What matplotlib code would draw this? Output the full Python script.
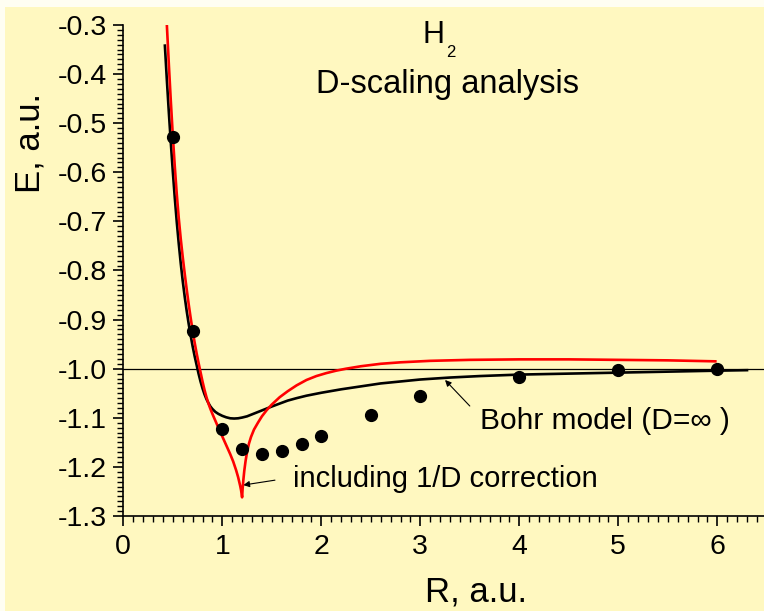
import matplotlib
matplotlib.use("Agg")
import matplotlib.pyplot as plt
from matplotlib.ticker import MultipleLocator, FormatStrFormatter
from matplotlib.patches import Rectangle

plt.rcParams['font.family'] = ['Liberation Sans', 'DejaVu Sans']
plt.rcParams['axes.unicode_minus'] = False

# --- data ---
# dots: D-scaling energies
r_dots = [0.5, 0.7, 1.0, 1.2, 1.4, 1.6, 1.8, 2.0, 2.5, 3.0, 4.0, 5.0, 6.0]
e_dots = [-0.528, -0.923, -1.123, -1.164, -1.173, -1.167, -1.154, -1.137,
          -1.094, -1.056, -1.016, -1.003, -1.001]

# black curve: Bohr model (D = infinity)
r_bohr = [0.42, 0.44, 0.46, 0.48, 0.50, 0.52, 0.54, 0.56, 0.58, 0.60,
          0.62, 0.64, 0.66, 0.68, 0.70, 0.72, 0.74, 0.76, 0.78, 0.80,
          0.82, 0.84, 0.86, 0.88, 0.90, 0.93, 0.96, 1.00, 1.04, 1.08,
          1.12, 1.16, 1.20, 1.25, 1.30, 1.35, 1.40, 1.45, 1.50, 1.58,
          1.66, 1.75, 1.85, 2.00, 2.20, 2.40, 2.60, 2.80, 3.00, 3.30,
          3.60, 4.00, 4.50, 5.00, 5.50, 6.00, 6.30]
e_bohr = [-0.342, -0.412, -0.478, -0.540, -0.598, -0.652, -0.701, -0.745, -0.785, -0.821,
          -0.853, -0.882, -0.908, -0.932, -0.954, -0.974, -0.992, -1.010, -1.026, -1.040,
          -1.052, -1.062, -1.070, -1.077, -1.082, -1.088, -1.092, -1.096, -1.099, -1.101,
          -1.1015, -1.101, -1.0995, -1.097, -1.093, -1.089, -1.085, -1.081, -1.077, -1.071,
          -1.065, -1.060, -1.055, -1.049, -1.042, -1.036, -1.030, -1.026, -1.022, -1.018,
          -1.015, -1.012, -1.010, -1.008, -1.006, -1.004, -1.003]

# red curve: including 1/D correction
r_corr = [0.44, 0.46, 0.48, 0.50, 0.52, 0.54, 0.56, 0.58, 0.60, 0.62,
          0.64, 0.66, 0.68, 0.70, 0.72, 0.74, 0.76, 0.78, 0.80, 0.82,
          0.84, 0.86, 0.88, 0.90, 0.93, 0.96, 1.00, 1.04, 1.08, 1.11,
          1.14, 1.16, 1.18, 1.19, 1.20, 1.205, 1.212, 1.222, 1.235, 1.25,
          1.27, 1.29, 1.32, 1.36, 1.40, 1.45, 1.50, 1.58, 1.66, 1.75,
          1.85, 1.95, 2.05, 2.15, 2.25, 2.40, 2.60, 2.80, 3.10, 3.50,
          4.00, 4.50, 5.00, 5.50, 5.98]
e_corr = [-0.300, -0.380, -0.455, -0.525, -0.588, -0.644, -0.693, -0.735, -0.772, -0.806,
          -0.838, -0.868, -0.896, -0.922, -0.946, -0.968, -0.988, -1.007, -1.026, -1.043,
          -1.058, -1.071, -1.082, -1.092, -1.106, -1.120, -1.138, -1.156, -1.174, -1.189,
          -1.207, -1.221, -1.238, -1.248, -1.262, -1.245, -1.228, -1.208, -1.188, -1.170,
          -1.152, -1.139, -1.124, -1.110, -1.097, -1.084, -1.073, -1.058, -1.046, -1.034,
          -1.023, -1.015, -1.009, -1.004, -1.000, -0.995, -0.990, -0.987, -0.984, -0.982,
          -0.981, -0.981, -0.982, -0.983, -0.985]

W, H = 764, 611
fig = plt.figure(figsize=(W / 100, H / 100), dpi=100, facecolor='#fffef2')
fig.patches.append(Rectangle((5 / W, 0), 1, 1 - 7 / H, transform=fig.transFigure,
                             facecolor='#fff8c0', edgecolor='none', zorder=-10))

ax = fig.add_axes([123.3 / W, 1 - 516 / H, 6.5 * 99 / W, 491 / H])
ax.set_facecolor('none')

ax.axhline(-1.0, color='black', lw=0.9, zorder=1)
ax.plot(r_bohr, e_bohr, color='black', lw=1.9, zorder=3)
ax.plot(r_corr, e_corr, color='#ff0000', lw=1.9, zorder=4)
ax.plot(r_dots, e_dots, 'o', color='black', ms=8.5, zorder=5)

ax.set_xlim(0, 6.5)
ax.set_ylim(-1.3, -0.3)
ax.xaxis.set_major_locator(MultipleLocator(1))
ax.xaxis.set_minor_locator(MultipleLocator(0.1))
ax.yaxis.set_major_locator(MultipleLocator(0.1))
ax.yaxis.set_minor_locator(MultipleLocator(0.01))
ax.yaxis.set_major_formatter(FormatStrFormatter('%.1f'))

for s in ['top', 'right']:
    ax.spines[s].set_visible(False)
for s in ['left', 'bottom']:
    ax.spines[s].set_linewidth(1.2)

ax.tick_params(which='major', direction='out', length=7, width=1.2, labelsize=20.5)
ax.tick_params(which='minor', direction='out', length=4, width=1.0)
ax.tick_params(axis='x', which='major', pad=6)
ax.tick_params(axis='y', which='major', pad=5)

# axis labels
fig.text(40 / W, 1 - 143 / H, 'E, a.u.', rotation=90, rotation_mode='anchor',
         ha='center', va='baseline', fontsize=25)
fig.text(476 / W, 1 - 602 / H, 'R, a.u.', ha='center', va='baseline', fontsize=25)

# title block
fig.text(422 / W, 1 - 43 / H, 'H', ha='left', va='baseline', fontsize=22)
fig.text(446 / W, 1 - 57 / H, '2', ha='left', va='baseline', fontsize=12)
fig.text(316 / W, 1 - 93 / H, 'D-scaling analysis', ha='left', va='baseline', fontsize=23.5)

# annotations
ax.annotate('', xy=(3.25, -1.023), xytext=(3.50, -1.076),
            arrowprops=dict(arrowstyle='-|>', color='black', lw=0.8,
                            mutation_scale=9, shrinkA=0, shrinkB=0))
fig.text(480 / W, 1 - 429 / H, 'Bohr model (D=\u221e )', ha='left', va='baseline', fontsize=21.5)

ax.annotate('', xy=(1.212, -1.237), xytext=(1.532, -1.227),
            arrowprops=dict(arrowstyle='-|>', color='black', lw=0.8,
                            mutation_scale=9, shrinkA=0, shrinkB=0))
fig.text(293 / W, 1 - 487 / H, 'including 1/D correction', ha='left', va='baseline', fontsize=21)

fig.savefig('out.png', dpi=100, facecolor=fig.get_facecolor())
